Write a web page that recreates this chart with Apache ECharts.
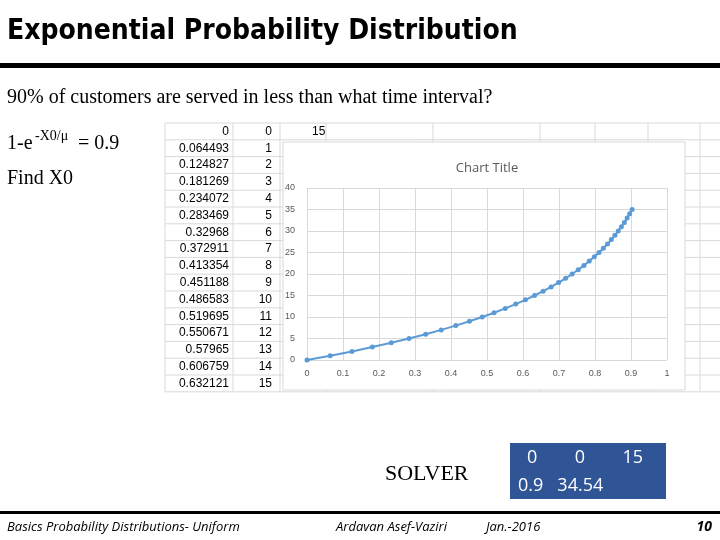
<!DOCTYPE html>
<html>
<head>
<meta charset="utf-8">
<script src="https://cdn.jsdelivr.net/npm/echarts@6/dist/echarts.min.js"></script>
<style>html,body{margin:0;padding:0;background:#fff}#main{width:720px;height:540px}</style>
</head>
<body>
<div id="main"></div>
<script>
// time values (y) and cumulative probability (x), as listed in the sheet
var times = [0, 1, 2, 3, 4, 5, 6, 7, 8, 9, 10, 11, 12, 13, 14, 15, 16, 17, 18, 19, 20,
	21, 22, 23, 24, 25, 26, 27, 28, 29, 30, 31, 32, 33, 34, 35];
var probs = [0, 0.064493, 0.124827, 0.181269, 0.234072, 0.283469, 0.32968, 0.372911,
	0.413354, 0.451188, 0.486583, 0.519695, 0.550671, 0.57965, 0.606759, 0.632121,
	0.65585, 0.67804, 0.69881, 0.71823, 0.7364, 0.7534, 0.76931, 0.78418, 0.7981,
	0.81112, 0.8233, 0.8347, 0.84536, 0.85533, 0.86466, 0.87339, 0.88156, 0.8892,
	0.89634, 0.90303];
var tableProbs = ['0', '0.064493', '0.124827', '0.181269', '0.234072', '0.283469', '0.32968',
	'0.372911', '0.413354', '0.451188', '0.486583', '0.519695', '0.550671', '0.57965',
	'0.606759', '0.632121'];

var points = [];
for (var i = 0; i < times.length; i++) {
	points.push([probs[i], times[i]]);
}

var g = [];
var serif = '"Liberation Serif", serif';
var cellFont = '"Liberation Sans Narrow", "Liberation Sans", sans-serif';

// spreadsheet grid behind
var rowTop = 123, rowH = 16.8;
for (var r = 0; r <= 16; r++) {
	g.push({ type: 'line', z: -20, shape: { x1: 165, y1: rowTop + r * rowH, x2: 720, y2: rowTop + r * rowH },
		style: { stroke: '#d9d9d9', lineWidth: 1 } });
}
var colX = [165, 233, 280, 326, 433, 540, 595, 648, 700];
colX.forEach(function (cx) {
	g.push({ type: 'line', z: -20, shape: { x1: cx, y1: rowTop, x2: cx, y2: rowTop + 16 * rowH },
		style: { stroke: '#d9d9d9', lineWidth: 1 } });
});
for (var r = 0; r < tableProbs.length; r++) {
	var cy = rowTop + r * rowH + rowH / 2;
	g.push({ type: 'text', style: { text: tableProbs[r], x: 229, y: cy, align: 'right', verticalAlign: 'middle',
		font: '12px ' + cellFont, fill: '#000' } });
	g.push({ type: 'text', style: { text: String(times[r]), x: 272, y: cy, align: 'right', verticalAlign: 'middle',
		font: '12px ' + cellFont, fill: '#000' } });
}
g.push({ type: 'text', style: { text: '15', x: 312, y: rowTop + rowH / 2, verticalAlign: 'middle',
	font: '12px ' + cellFont, fill: '#000' } });

// chart box
g.push({ type: 'rect', z: -10, shape: { x: 283, y: 142, width: 402, height: 248 },
	style: { fill: '#fff', stroke: '#d9d9d9', lineWidth: 1 } });

// slide text
g.push({ type: 'text', style: { text: 'Exponential Probability Distribution', x: 7, y: 32, verticalAlign: 'middle',
	font: 'bold 28px "DejaVu Sans Condensed", sans-serif', fill: '#000' } });
g.push({ type: 'rect', shape: { x: 0, y: 63, width: 720, height: 5 }, style: { fill: '#000' } });
g.push({ type: 'text', style: { text: '90% of customers are served in less than what time interval?', x: 7, y: 98,
	verticalAlign: 'middle', font: '20px ' + serif, fill: '#000' } });
g.push({ type: 'text', style: { text: '1-e', x: 7, y: 144, verticalAlign: 'middle', font: '20px ' + serif, fill: '#000' } });
g.push({ type: 'text', style: { text: '-X0/\u03bc', x: 35, y: 136, verticalAlign: 'middle', font: '14px ' + serif, fill: '#000' } });
g.push({ type: 'text', style: { text: '= 0.9', x: 78, y: 144, verticalAlign: 'middle', font: '20px ' + serif, fill: '#000' } });
g.push({ type: 'text', style: { text: 'Find X0', x: 7, y: 179, verticalAlign: 'middle', font: '20px ' + serif, fill: '#000' } });
g.push({ type: 'text', style: { text: 'SOLVER', x: 385, y: 474, verticalAlign: 'middle', font: '22px ' + serif, fill: '#000' } });

g.push({ type: 'rect', shape: { x: 510, y: 443, width: 156, height: 56 }, style: { fill: '#2f5597' } });
g.push({ type: 'text', style: { text: '0        0        15', x: 527, y: 458, verticalAlign: 'middle',
	font: '18px "Open Sans", sans-serif', fill: '#fff' } });
g.push({ type: 'text', style: { text: '0.9   34.54', x: 518, y: 486, verticalAlign: 'middle',
	font: '18px "Open Sans", sans-serif', fill: '#fff' } });

g.push({ type: 'rect', shape: { x: 0, y: 511, width: 720, height: 3 }, style: { fill: '#000' } });
var foot = 'italic 13px "Open Sans", sans-serif';
g.push({ type: 'text', style: { text: 'Basics Probability Distributions- Uniform', x: 7, y: 527, verticalAlign: 'middle', font: foot, fill: '#000' } });
g.push({ type: 'text', style: { text: 'Ardavan Asef-Vaziri', x: 336, y: 527, verticalAlign: 'middle', font: foot, fill: '#000' } });
g.push({ type: 'text', style: { text: 'Jan.-2016', x: 486, y: 527, verticalAlign: 'middle', font: foot, fill: '#000' } });
g.push({ type: 'text', style: { text: '10', x: 712, y: 527, align: 'right', verticalAlign: 'middle',
	font: 'bold italic 14px "Open Sans", sans-serif', fill: '#000' } });

var chart = echarts.init(document.getElementById('main'));
chart.setOption({
	animation: false,
	title: {
		text: 'Chart Title', left: 482, top: 157, textAlign: 'center',
		textStyle: { fontSize: 13, fontWeight: 'normal', color: '#595959', fontFamily: '"Open Sans", sans-serif' }
	},
	graphic: g,
	grid: { left: 307, right: 53, top: 188, bottom: 180 },
	xAxis: {
		type: 'value', min: 0, max: 1, interval: 0.1,
		axisLine: { show: false }, axisTick: { show: false },
		axisLabel: { fontSize: 9, color: '#595959', margin: 9, formatter: function (v) {
			return String(+v.toFixed(1));
		} },
		splitLine: { lineStyle: { color: '#d9d9d9' } }
	},
	yAxis: {
		type: 'value', min: 0, max: 40, interval: 5,
		axisLine: { show: false }, axisTick: { show: false },
		axisLabel: { fontSize: 9, color: '#595959', margin: 12 },
		splitLine: { lineStyle: { color: '#d9d9d9' } }
	},
	series: [{
		type: 'line', data: points, z: 10,
		symbol: 'circle', symbolSize: 5,
		lineStyle: { color: '#5b9bd5', width: 2 },
		itemStyle: { color: '#5b9bd5' }
	}]
});
</script>
</body>
</html>
